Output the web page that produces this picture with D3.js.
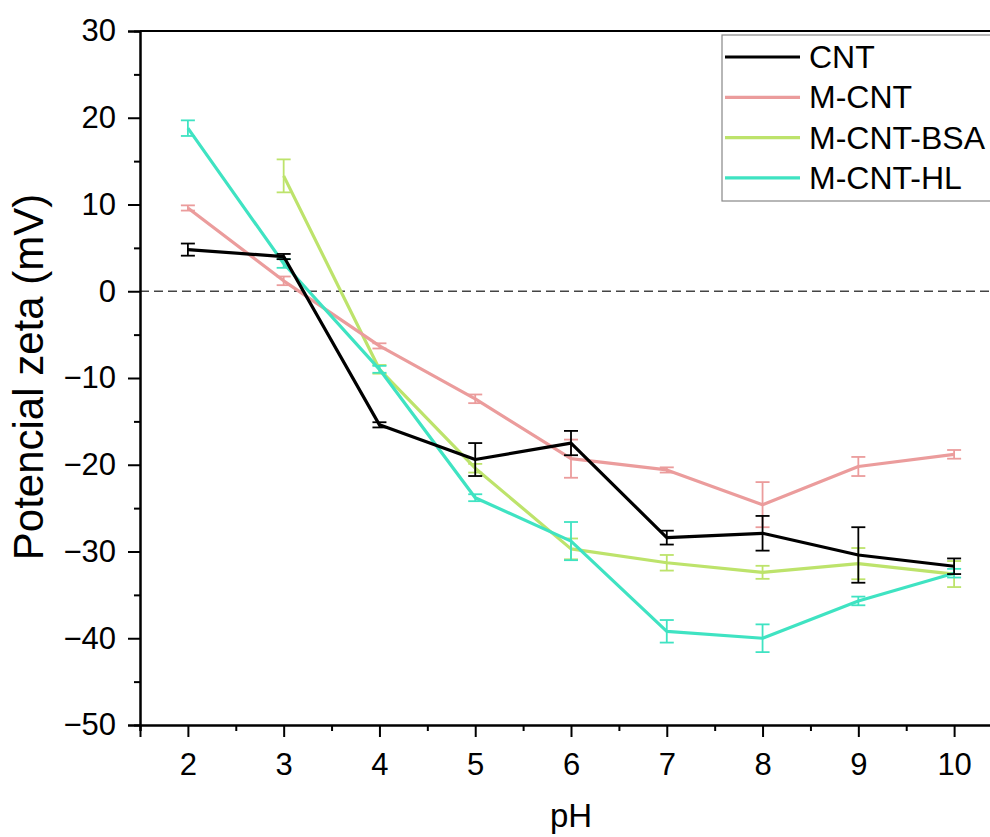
<!DOCTYPE html>
<html><head><meta charset="utf-8">
<script src="https://cdn.jsdelivr.net/npm/d3@7"></script>
<style>body{margin:0;background:#fff}svg{display:block}text{font-family:"Liberation Sans",Arial,sans-serif}</style>
</head><body><svg id="c" width="990" height="837"></svg>
<script>
const pH = [2,3,4,5,6,7,8,9,10];
const seriesNames = ["CNT","M-CNT","M-CNT-BSA","M-CNT-HL"];
const colors = ["#000000","#eb9c9c","#bde36b","#3fe3c2"];
const cnt      = [4.8, 4.0, -15.4, -19.4, -17.5, -28.4, -27.9, -30.4, -31.7];
const cntErr   = [0.7, 0.3, 0.3, 1.9, 1.4, 0.8, 2.0, 3.2, 0.9];
const mcnt     = [9.6, 1.2, -6.3, -12.4, -19.3, -20.6, -24.6, -20.2, -18.8];
const mcntErr  = [0.3, 0.5, 0.3, 0.5, 2.2, 0.3, 2.6, 1.1, 0.5];
const bsa      = [null, 13.3, -9.0, -20.4, -29.7, -31.3, -32.4, -31.4, -32.6];
const bsaErr   = [null, 1.9, 0.5, 0.5, 1.2, 0.9, 0.75, 1.8, 1.5];
const hl       = [18.8, 3.2, -9.0, -23.8, -28.8, -39.2, -40.0, -35.7, -32.5];
const hlErr    = [0.9, 0.5, 0.4, 0.4, 2.2, 1.3, 1.6, 0.5, 0.5];
const xTicks = [2,3,4,5,6,7,8,9,10];
const yTicks = [30,20,10,0,-10,-20,-30,-40,-50];

const values = [cnt, mcnt, bsa, hl];
const errors = [cntErr, mcntErr, bsaErr, hlErr];

const svg = d3.select("#c");
const L = 140, T = 31, R = 1002, B = 725;
const x = d3.scaleLinear().domain([1.5, 10.5]).range([L, R]);
const y = d3.scaleLinear().domain([-50, 30]).range([B, T]);

// zero dashed line
svg.append("line").attr("x1", L).attr("x2", R).attr("y1", y(0)).attr("y2", y(0))
  .attr("stroke", "#444").attr("stroke-width", 1.6).attr("stroke-dasharray", "9,5");

// axes
const xAxis = d3.axisBottom(x).tickValues(xTicks).tickSize(12).tickPadding(16).tickFormat(d3.format("d"));
svg.append("g").attr("transform", `translate(0,${B})`).call(xAxis);
const xMinor = d3.axisBottom(x).tickValues(d3.range(1.5, 10.6, 1)).tickSize(6).tickFormat("");
svg.append("g").attr("transform", `translate(0,${B})`).call(xMinor);
const yAxis = d3.axisLeft(y).tickValues(yTicks).tickSize(12).tickPadding(12).tickFormat(d => d < 0 ? "\u2212" + Math.abs(d) : d);
svg.append("g").attr("transform", `translate(${L},0)`).call(yAxis);
const yMinor = d3.axisLeft(y).tickValues(d3.range(-45, 30, 10)).tickSize(6).tickFormat("");
svg.append("g").attr("transform", `translate(${L},0)`).call(yMinor);
svg.selectAll(".domain").attr("stroke", "#000").attr("stroke-width", 2);
svg.selectAll(".tick line").attr("stroke", "#000").attr("stroke-width", 2);
svg.selectAll(".tick text").attr("font-size", 31).attr("fill", "#000").attr("font-family", "Liberation Sans, Arial, sans-serif");
// top axis line
svg.append("line").attr("x1", L).attr("x2", R).attr("y1", T).attr("y2", T).attr("stroke", "#000").attr("stroke-width", 2);

// series
const order = [2, 1, 3, 0];
const line = d3.line().defined(d => d.v !== null).x(d => x(d.x)).y(d => y(d.v));
order.forEach(i => {
  const pts = pH.map((p, k) => ({x: p, v: values[i][k], e: errors[i][k]}));
  const g = svg.append("g");
  g.append("path").datum(pts).attr("d", line).attr("fill", "none")
    .attr("stroke", colors[i]).attr("stroke-width", 3.2).attr("stroke-linejoin", "round");
  const eb = g.selectAll("g.eb").data(pts.filter(d => d.v !== null)).enter().append("g");
  eb.append("line").attr("x1", d => x(d.x)).attr("x2", d => x(d.x))
    .attr("y1", d => y(d.v + d.e)).attr("y2", d => y(d.v - d.e))
    .attr("stroke", colors[i]).attr("stroke-width", 1.8);
  [1, -1].forEach(s => {
    eb.append("line").attr("x1", d => x(d.x) - 7).attr("x2", d => x(d.x) + 7)
      .attr("y1", d => y(d.v + s * d.e)).attr("y2", d => y(d.v + s * d.e))
      .attr("stroke", colors[i]).attr("stroke-width", 1.8);
  });
});

// axis titles
svg.append("text").attr("x", 571).attr("y", 827).attr("text-anchor", "middle")
  .attr("font-size", 33).text("pH");
svg.append("text").attr("transform", `translate(43,377) rotate(-90)`)
  .attr("text-anchor", "middle").attr("font-size", 42).text("Potencial zeta (mV)");

// legend
const lg = svg.append("g");
lg.append("rect").attr("x", 722).attr("y", 35).attr("width", 300).attr("height", 166)
  .attr("fill", "#fff").attr("stroke", "#888").attr("stroke-width", 1.2);
seriesNames.forEach((n, i) => {
  const yy = 57 + i * 40.3;
  lg.append("line").attr("x1", 725).attr("x2", 800).attr("y1", yy).attr("y2", yy)
    .attr("stroke", colors[i]).attr("stroke-width", 3.2);
  lg.append("text").attr("x", 809).attr("y", yy + 11).attr("font-size", 32).text(n);
});
</script></body></html>
